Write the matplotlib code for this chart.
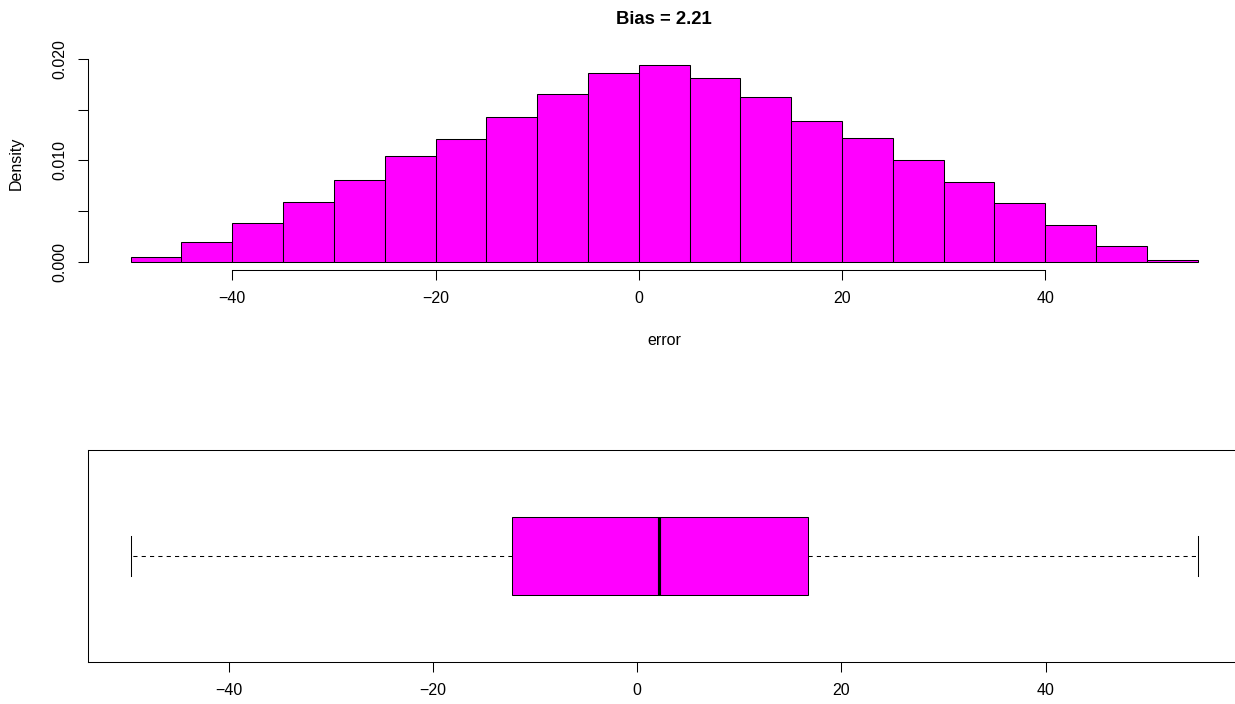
import matplotlib
matplotlib.use("Agg")
import matplotlib.pyplot as plt
import numpy as np
from matplotlib.ticker import FuncFormatter

plt.rcParams['font.family'] = ['Liberation Sans', 'DejaVu Sans']

# histogram of errors (density), bins of width 5
bin_edges = [-50, -45, -40, -35, -30, -25, -20, -15, -10, -5, 0,
             5, 10, 15, 20, 25, 30, 35, 40, 45, 50, 55]
density = [0.00043, 0.00191, 0.00382, 0.00592, 0.00803, 0.0104, 0.0121,
           0.01428, 0.01658, 0.01859, 0.01938, 0.0181, 0.01625, 0.01389,
           0.01221, 0.01001, 0.00784, 0.00582, 0.00359, 0.00158, 0.0002]

# boxplot summary of the same errors
box_stats = {'whislo': -49.58, 'q1': -12.26, 'med': 2.13, 'q3': 16.72, 'whishi': 54.87}
bias = 2.21

magenta = '#FF00FF'
x_ticks = [-40, -20, 0, 20, 40]
y_ticks = [0.0, 0.005, 0.010, 0.015, 0.020]


def r_lim(lo, hi):
    # R style 4% padding
    pad = 0.04 * (hi - lo)
    return lo - pad, hi + pad


fig = plt.figure(figsize=(12.35, 7.04), dpi=100)
left, width = 88 / 1235, 1152.3 / 1235
tick_len = 7.2

# --- histogram ---
ax1 = fig.add_axes([left, 1 - 269.6 / 704, width, 212.2 / 704])
widths = np.diff(bin_edges)
ax1.bar(bin_edges[:-1], density, width=widths, align='edge',
        color=magenta, edgecolor='black', linewidth=0.75)
ax1.set_xlim(*r_lim(bin_edges[0], bin_edges[-1]))
ax1.set_ylim(*r_lim(0, max(density)))
for s in ['top', 'right']:
    ax1.spines[s].set_visible(False)
ax1.spines['left'].set_bounds(0, 0.02)
ax1.spines['bottom'].set_bounds(-40, 40)
for s in ['left', 'bottom']:
    ax1.spines[s].set_linewidth(0.75)
ax1.set_xticks(x_ticks)
ax1.set_yticks(y_ticks)
ax1.yaxis.set_major_formatter(FuncFormatter(
    lambda v, p: f'{v:.3f}' if round(v * 1000) % 10 == 0 else ''))
ax1.tick_params(direction='out', length=tick_len, width=0.75, labelsize=11.5, pad=8)
plt.setp(ax1.get_yticklabels(), rotation=90, va='center')
ax1.set_ylabel('Density', fontsize=11.5)
ax1.yaxis.set_label_coords(-0.0555, 0.5)
ax1.set_xlabel('error', fontsize=11.5)
ax1.xaxis.set_label_coords(0.5, -0.30)
fig.text(664 / 1235, 1 - 19 / 704, f'Bias = {bias}', fontsize=13.3,
         fontweight='bold', ha='center', va='center')

# --- boxplot ---
ax2 = fig.add_axes([left, 1 - 662 / 704, width, 212 / 704])
stats = dict(box_stats, fliers=[])
ax2.bxp([stats], orientation='horizontal', widths=0.4, patch_artist=True,
        showfliers=False,
        boxprops=dict(facecolor=magenta, edgecolor='black', linewidth=0.75),
        medianprops=dict(color='black', linewidth=2.25),
        whiskerprops=dict(color='black', linewidth=0.75, linestyle=(0, (4, 4))),
        capprops=dict(color='black', linewidth=0.75), capwidths=0.2)
ax2.set_xlim(*r_lim(box_stats['whislo'], box_stats['whishi']))
ax2.set_ylim(*r_lim(0.5, 1.5))
for s in ax2.spines.values():
    s.set_linewidth(0.75)
ax2.set_yticks([])
ax2.set_xticks(x_ticks)
ax2.tick_params(direction='out', length=tick_len, width=0.75, labelsize=11.5, pad=8)

fig.savefig('out.png', dpi=100)
